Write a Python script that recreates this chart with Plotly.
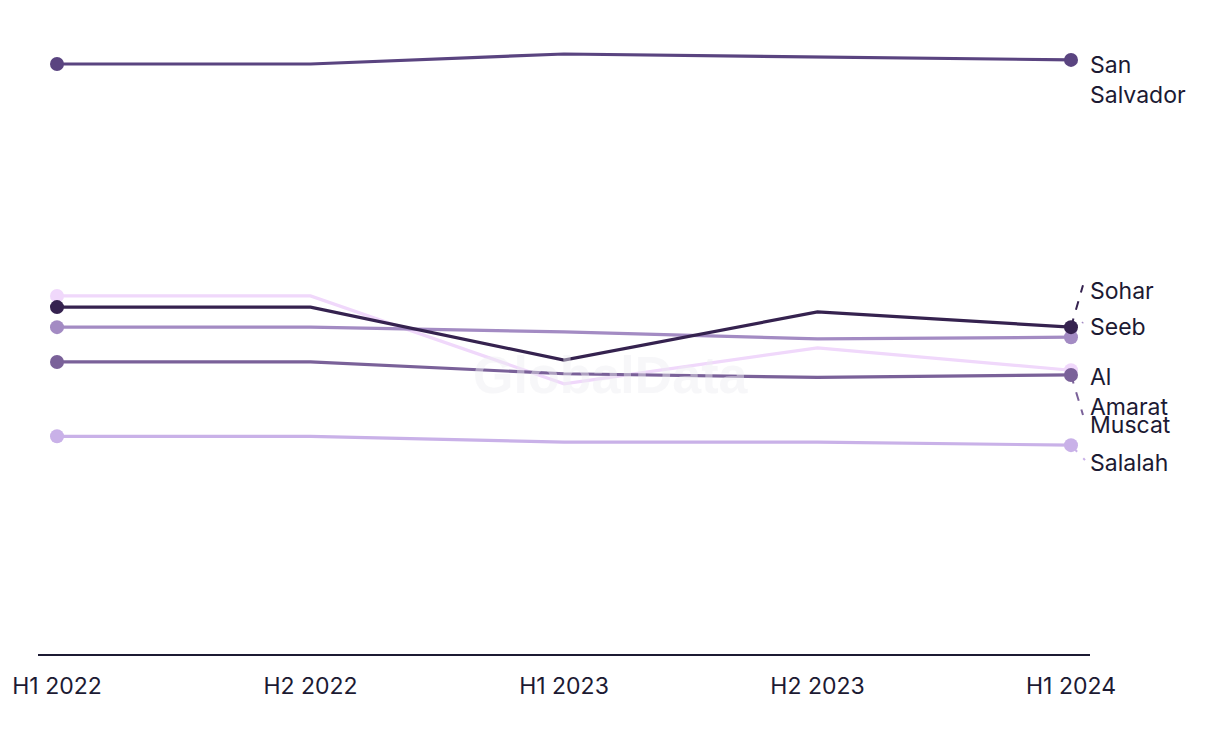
import plotly.graph_objects as go

periods = ["H1 2022", "H2 2022", "H1 2023", "H2 2023", "H1 2024"]

series_names = ["Al Amarat", "Salalah", "Muscat", "Seeb", "Sohar", "San Salvador"]
al_amarat = [60.7, 60.7, 45.8, 51.9, 48.1]
salalah = [36.9, 36.9, 35.9, 35.9, 35.4]
muscat = [49.5, 49.5, 47.5, 46.9, 47.3]
seeb = [55.4, 55.4, 54.6, 53.4, 53.7]
sohar = [58.8, 58.8, 49.8, 58.0, 55.4]
san_salvador = [100.0, 100.0, 101.7, 101.2, 100.7]

values = [al_amarat, salalah, muscat, seeb, sohar, san_salvador]
colors = ["#f0d8fb", "#c9b1e8", "#7a6199", "#a38bc3", "#35224f", "#5a4480"]
label_texts = ["Al<br>Amarat", "Salalah", "Muscat", "Seeb", "Sohar", "San<br>Salvador"]
# label offset in pixels (positive = up) relative to the last point
label_shift = [-22, -18, -50, 10, 36, -20]
# connector end offsets in pixels (dx, dy up); None = no connector
connectors = [None, (14, -15), (12, -40), (12, 15), (12, 42), None]

x_idx = list(range(len(periods)))
fig = go.Figure()

for name, v, c in zip(series_names, values, colors):
    fig.add_trace(go.Scatter(x=x_idx, y=v, mode="lines", name=name,
                             line=dict(color=c, width=3.2),
                             showlegend=False, hoverinfo="x+y+name"))
    ends = [0, len(v) - 1]
    fig.add_trace(go.Scatter(x=[x_idx[i] for i in ends], y=[v[i] for i in ends], mode="markers",
                             name=name, marker=dict(color=c, size=14, opacity=1, line=dict(width=0)),
                             showlegend=False, hoverinfo="x+y+name"))

last = len(periods) - 1
for name, v, c, t, s, con in zip(series_names, values, colors, label_texts, label_shift, connectors):
    fig.add_annotation(x=last, y=v[-1], xref="x", yref="y", text=t, showarrow=False,
                       xanchor="left", yanchor="middle", align="left", xshift=17, yshift=s,
                       font=dict(family="Inter", size=23, color="#1c1a33"))
    if con is not None:
        fig.add_shape(type="line", xref="x", yref="y", xsizemode="pixel", ysizemode="pixel",
                      xanchor=last, yanchor=v[-1], x0=0, y0=0, x1=con[0], y1=con[1],
                      line=dict(color=c, width=2, dash="dash"), layer="below")

fig.add_annotation(text="<b>GlobalData</b>", x=0.545, y=0.44, xref="paper", yref="paper",
                   showarrow=False, font=dict(family="Liberation Sans", size=52, color="rgba(238,238,242,0.45)"))

fig.update_layout(
    width=1220, height=744,
    margin=dict(l=38, r=130, t=20, b=90),
    plot_bgcolor="white", paper_bgcolor="white",
    xaxis=dict(range=[-0.075, 4.075], tickmode="array", tickvals=x_idx, ticktext=periods,
               showgrid=False, zeroline=False, showline=True, linecolor="#1c1a33", linewidth=2,
               ticks="", ticklabelstandoff=10,
               tickfont=dict(family="Inter", size=23, color="#1c1a33")),
    yaxis=dict(range=[0, 107.46], showgrid=False, zeroline=False, showticklabels=False,
               showline=False),
)

fig.write_html("out.html")
